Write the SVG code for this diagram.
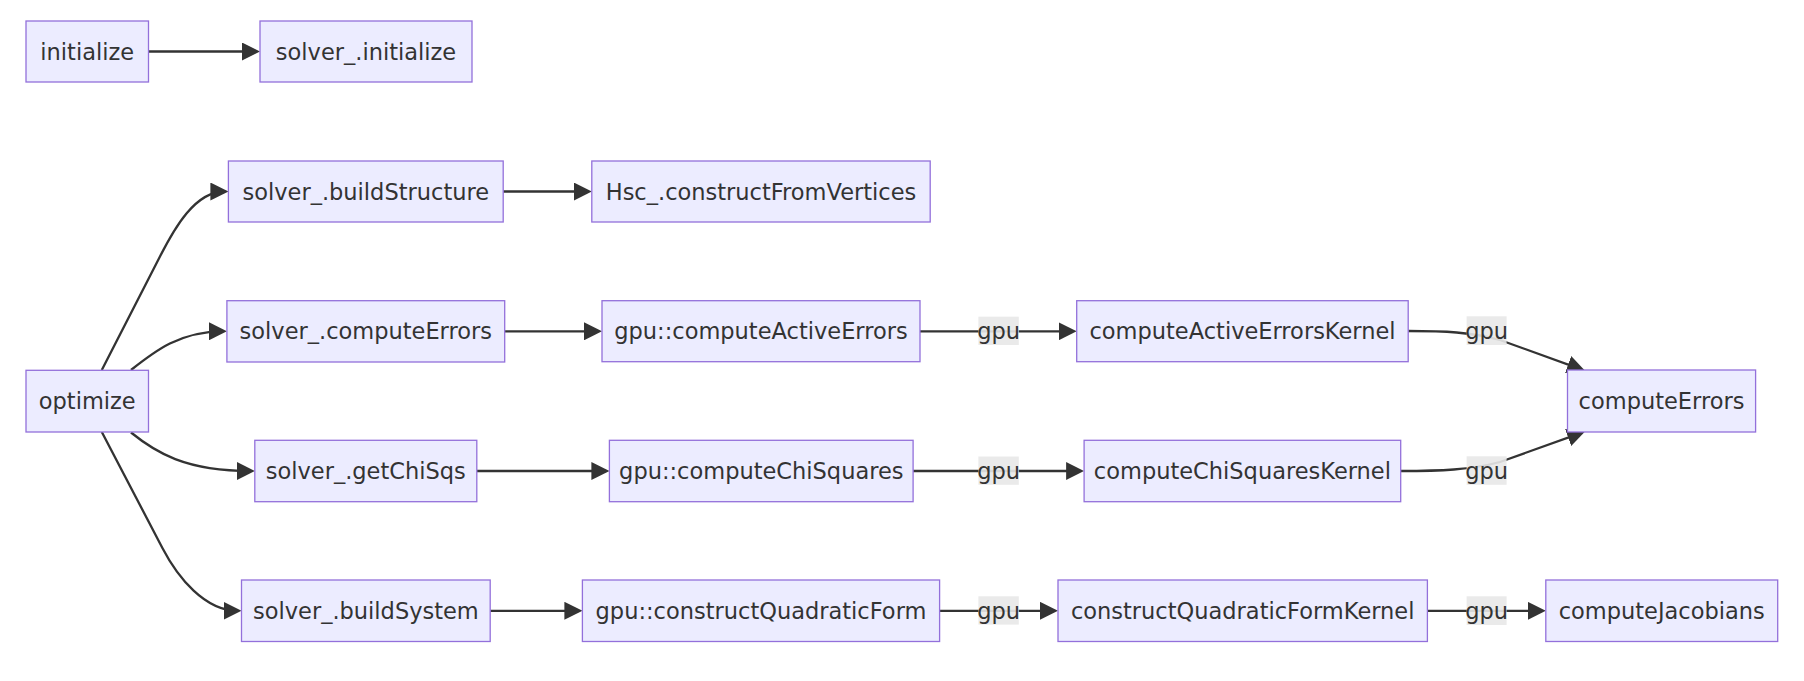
<svg xmlns="http://www.w3.org/2000/svg" width="1804" height="681" viewBox="0 0 1804 681">
<style>
.node rect{fill:#ECECFF;stroke:#9370DB;stroke-width:1.3}
text{font-family:"DejaVu Sans","Liberation Sans",sans-serif;font-size:22.5px;fill:#333;text-anchor:middle}
.edge{fill:none;stroke:#333;stroke-width:2.3;marker-end:url(#arrow)}
.lbl rect{fill:#e8e8e8;opacity:0.9}
</style>
<defs>
<marker id="arrow" markerUnits="userSpaceOnUse" viewBox="0 0 18 18" markerWidth="18" markerHeight="18" refX="14" refY="9" orient="auto">
<path d="M0,0 L18,9 L0,18 z" fill="#333"/>
</marker>
</defs>
<g id="connectors">
<path class="edge" d="M148.5,51.5 H256"/>
<path class="edge" d="M101.8,370 L159.2,258 C174.4,228 195,191.5 224.4,191.5"/>
<path class="edge" d="M131,370 C155,351 180,331.3 222.9,331.3"/>
<path class="edge" d="M131,432.5 C155,452 185,471 250.8,471"/>
<path class="edge" d="M101.8,432 L162.4,548 C178,578 205,610.8 237.5,610.8"/>
<path class="edge" d="M503.2,191.5 H587.8"/>
<path class="edge" d="M504.7,331.3 H598"/>
<path class="edge" d="M476.8,471 H605.4"/>
<path class="edge" d="M490.2,610.8 H578.4"/>
<path class="edge" d="M920,331.3 H1072.7"/>
<path class="edge" d="M913.1,471 H1080.1"/>
<path class="edge" d="M939.6,610.8 H1054"/>
<path class="edge" d="M1427.4,610.8 H1541.8"/>
<path class="edge" d="M1408.2,331 C1445,331 1470,332 1500,340 L1581.3,369.3"/>
<path class="edge" d="M1400.7,471 C1440,471 1470,470 1500,462 L1581.3,432.8"/>
<g class="lbl"><rect x="978.4" y="316.7" width="40.4" height="28.3"/><text x="998.6" y="339">gpu</text></g>
<g class="lbl"><rect x="978.4" y="456.5" width="40.4" height="28.3"/><text x="998.6" y="479">gpu</text></g>
<g class="lbl"><rect x="978.4" y="596.3" width="40.4" height="28.3"/><text x="998.6" y="618.8">gpu</text></g>
<g class="lbl"><rect x="1466.6" y="316.3" width="40" height="28.7"/><text x="1486.6" y="339">gpu</text></g>
<g class="lbl"><rect x="1466.6" y="456.3" width="40" height="28.5"/><text x="1486.6" y="479">gpu</text></g>
<g class="lbl"><rect x="1466.6" y="596.3" width="40" height="28.7"/><text x="1486.6" y="618.8">gpu</text></g>
</g>
<g id="initialize" class="node"><rect x="26" y="21" width="122.5" height="61"/><text x="87.25" y="59.5">initialize</text></g>
<g id="solver_initialize" class="node"><rect x="260" y="21" width="212" height="61"/><text x="366" y="59.5">solver_.initialize</text></g>
<g id="solver_buildStructure" class="node"><rect x="228.4" y="161" width="274.8" height="61"/><text x="365.8" y="199.5">solver_.buildStructure</text></g>
<g id="Hsc_constructFromVertices" class="node"><rect x="591.8" y="161" width="338.4" height="61"/><text x="761" y="199.5">Hsc_.constructFromVertices</text></g>
<g id="optimize" class="node"><rect x="26" y="370.3" width="122.5" height="61.7"/><text x="87.25" y="409">optimize</text></g>
<g id="solver_computeErrors" class="node"><rect x="226.9" y="300.7" width="277.8" height="61.3"/><text x="365.8" y="339.3">solver_.computeErrors</text></g>
<g id="gpu_computeActiveErrors" class="node"><rect x="602" y="300.7" width="318" height="61"/><text x="761" y="339.3">gpu::computeActiveErrors</text></g>
<g id="computeActiveErrorsKernel" class="node"><rect x="1076.7" y="300.7" width="331.5" height="61"/><text x="1242.5" y="339.3">computeActiveErrorsKernel</text></g>
<g id="computeErrors" class="node"><rect x="1567.5" y="370" width="188.1" height="62"/><text x="1661.5" y="409">computeErrors</text></g>
<g id="solver_getChiSqs" class="node"><rect x="254.8" y="440.3" width="222" height="61.4"/><text x="365.8" y="479">solver_.getChiSqs</text></g>
<g id="gpu_computeChiSquares" class="node"><rect x="609.4" y="440.3" width="303.7" height="61.4"/><text x="761.3" y="479">gpu::computeChiSquares</text></g>
<g id="computeChiSquaresKernel" class="node"><rect x="1084.1" y="440.3" width="316.6" height="61.4"/><text x="1242.4" y="479">computeChiSquaresKernel</text></g>
<g id="solver_buildSystem" class="node"><rect x="241.5" y="580" width="248.7" height="61.5"/><text x="365.9" y="618.8">solver_.buildSystem</text></g>
<g id="gpu_constructQuadraticForm" class="node"><rect x="582.4" y="580" width="357.2" height="61.5"/><text x="761" y="618.8">gpu::constructQuadraticForm</text></g>
<g id="constructQuadraticFormKernel" class="node"><rect x="1058" y="580" width="369.4" height="61.5"/><text x="1242.7" y="618.8">constructQuadraticFormKernel</text></g>
<g id="computeJacobians" class="node"><rect x="1545.8" y="580" width="231.9" height="61.5"/><text x="1661.7" y="618.8">computeJacobians</text></g>
</svg>
